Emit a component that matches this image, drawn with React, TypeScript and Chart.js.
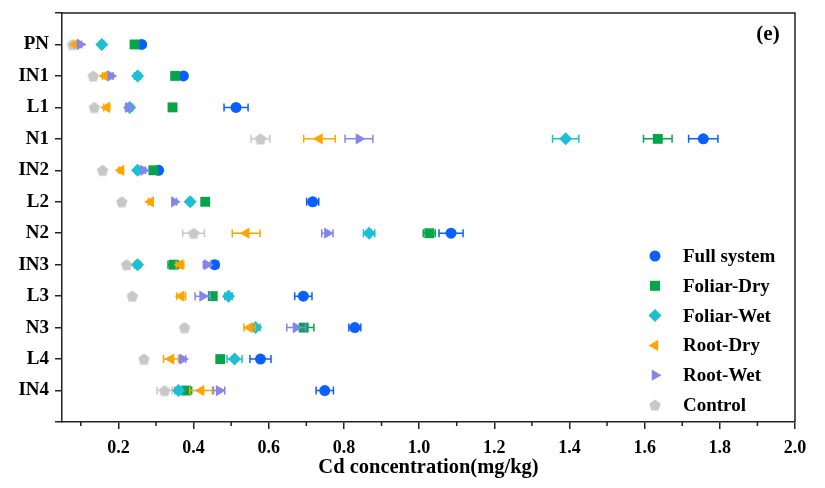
import React, { useEffect, useRef } from 'react';
import { Chart, registerables } from 'chart.js';

Chart.register(...registerables);

// ---------------- data ----------------
const categories = ['PN', 'IN1', 'L1', 'N1', 'IN2', 'L2', 'N2', 'IN3', 'L3', 'N3', 'L4', 'IN4'];
const xTickValues = [0.2, 0.4, 0.6, 0.8, 1.0, 1.2, 1.4, 1.6, 1.8, 2.0];
const xMinorTicks = [0.1, 0.3, 0.5, 0.7, 0.9, 1.1, 1.3, 1.5, 1.7, 1.9];
const seriesNames = ['Full system', 'Foliar-Dry', 'Foliar-Wet', 'Root-Dry', 'Root-Wet', 'Control'];

const fullSystem = [0.262, 0.373, 0.513, 1.756, 0.307, 0.717, 1.085, 0.456, 0.692, 0.829, 0.578, 0.749];
const fullSystemErr = [0.006, 0.005, 0.032, 0.039, 0.008, 0.016, 0.032, 0.010, 0.023, 0.016, 0.028, 0.023];

const foliarDry = [0.243, 0.351, 0.344, 1.635, 0.293, 0.431, 1.027, 0.347, 0.451, 0.693, 0.471, 0.380];
const foliarDryErr = [0.005, 0.008, 0.006, 0.038, 0.006, 0.006, 0.016, 0.015, 0.008, 0.027, 0.006, 0.015];

const foliarWet = [0.156, 0.251, 0.230, 1.390, 0.251, 0.391, 0.867, 0.251, 0.493, 0.565, 0.509, 0.360];
const foliarWetErr = [0.005, 0.008, 0.008, 0.035, 0.006, 0.006, 0.015, 0.008, 0.010, 0.012, 0.020, 0.010];

const rootDry = [0.086, 0.164, 0.169, 0.735, 0.207, 0.286, 0.540, 0.364, 0.367, 0.549, 0.340, 0.420];
const rootDryErr = [0.004, 0.006, 0.008, 0.042, 0.006, 0.006, 0.037, 0.010, 0.012, 0.015, 0.020, 0.030];

const rootWet = [0.098, 0.180, 0.227, 0.840, 0.267, 0.349, 0.756, 0.436, 0.424, 0.673, 0.371, 0.468];
const rootWetErr = [0.004, 0.006, 0.008, 0.037, 0.005, 0.006, 0.015, 0.010, 0.020, 0.025, 0.008, 0.015];

const control = [0.078, 0.133, 0.136, 0.578, 0.158, 0.209, 0.400, 0.222, 0.237, 0.376, 0.268, 0.323];
const controlErr = [0.004, 0.004, 0.004, 0.025, 0.004, 0.004, 0.029, 0.005, 0.005, 0.006, 0.006, 0.020];

// ---------------- styles ----------------
const COLORS = ['#0a5fff', '#07a54a', '#1cbfd4', '#ffa500', '#8585ee', '#c8c8c8'];
const FONT = '"Liberation Serif", "Times New Roman", serif';

function makePentagon(r: number, color: string): HTMLCanvasElement {
  const c = document.createElement('canvas');
  const s = Math.ceil(2 * r + 2);
  c.width = s;
  c.height = s;
  const ctx = c.getContext('2d')!;
  ctx.fillStyle = color;
  ctx.beginPath();
  for (let i = 0; i < 5; i++) {
    const a = -Math.PI / 2 + (i * 2 * Math.PI) / 5;
    const x = s / 2 + r * Math.cos(a);
    const y = s / 2 + r * Math.sin(a) + r * 0.1;
    if (i === 0) ctx.moveTo(x, y);
    else ctx.lineTo(x, y);
  }
  ctx.closePath();
  ctx.fill();
  return c;
}

function drawMarker(ctx: CanvasRenderingContext2D, kind: number, x: number, y: number, color: string, pent: HTMLCanvasElement) {
  ctx.save();
  ctx.fillStyle = color;
  ctx.beginPath();
  if (kind === 0) {
    ctx.arc(x, y, 5.5, 0, Math.PI * 2);
  } else if (kind === 1) {
    ctx.rect(x - 5, y - 5, 10, 10);
  } else if (kind === 2) {
    const r = 6.5;
    ctx.moveTo(x, y - r);
    ctx.lineTo(x + r, y);
    ctx.lineTo(x, y + r);
    ctx.lineTo(x - r, y);
  } else if (kind === 3 || kind === 4) {
    const r = 6.5;
    const dir = kind === 3 ? -1 : 1;
    for (let i = 0; i < 3; i++) {
      const a = (i * 2 * Math.PI) / 3;
      const px = x + dir * Math.cos(a) * r;
      const py = y + Math.sin(a) * r;
      if (i === 0) ctx.moveTo(px, py);
      else ctx.lineTo(px, py);
    }
  } else {
    ctx.drawImage(pent, x - pent.width / 2, y - pent.height / 2);
    ctx.restore();
    return;
  }
  ctx.closePath();
  ctx.fill();
  ctx.restore();
}

export default function App() {
  const ref = useRef<HTMLCanvasElement | null>(null);

  useEffect(() => {
    if (!ref.current) return;
    const pent = makePentagon(6, COLORS[5]);

    const allValues = [fullSystem, foliarDry, foliarWet, rootDry, rootWet, control];
    const allErrs = [fullSystemErr, foliarDryErr, foliarWetErr, rootDryErr, rootWetErr, controlErr];
    const styles: any[] = ['circle', 'rect', 'rectRot', 'triangle', 'triangle', pent];
    const radii = [5.5, 7, 6.5, 6.5, 6.5, 6];
    const rotations = [0, 0, 0, -90, 90, 0];
    const orders = [4, 3, 2, 1, 0, 5];

    const datasets = seriesNames.map((name, k) => ({
      label: name,
      data: allValues[k].map((v, i) => ({ x: v, y: 12 - i, err: allErrs[k][i] })),
      backgroundColor: COLORS[k],
      borderColor: COLORS[k],
      borderWidth: 0,
      pointStyle: styles[k],
      pointRadius: radii[k],
      pointHoverRadius: radii[k],
      pointRotation: rotations[k],
      order: orders[k],
    }));

    const errorBars = {
      id: 'errorBars',
      beforeDatasetDraw(chart: any, args: any) {
        const ds = chart.data.datasets[args.index];
        const xs = chart.scales.x;
        const ctx = chart.ctx;
        ctx.save();
        ctx.strokeStyle = ds.borderColor;
        ctx.lineWidth = 1.5;
        args.meta.data.forEach((pt: any, i: number) => {
          const d = ds.data[i];
          const x1 = xs.getPixelForValue(d.x - d.err);
          const x2 = xs.getPixelForValue(d.x + d.err);
          const y = pt.y;
          ctx.beginPath();
          ctx.moveTo(x1, y);
          ctx.lineTo(x2, y);
          ctx.moveTo(x1, y - 4);
          ctx.lineTo(x1, y + 4);
          ctx.moveTo(x2, y - 4);
          ctx.lineTo(x2, y + 4);
          ctx.stroke();
        });
        ctx.restore();
      },
    };

    const decorations = {
      id: 'decorations',
      afterDraw(chart: any) {
        const ctx = chart.ctx;
        const a = chart.chartArea;
        const xs = chart.scales.x;
        ctx.save();
        // top & right frame
        ctx.strokeStyle = '#222';
        ctx.lineWidth = 1.5;
        ctx.beginPath();
        ctx.moveTo(a.left, a.top);
        ctx.lineTo(a.right, a.top);
        ctx.lineTo(a.right, a.bottom);
        ctx.stroke();
        // minor ticks
        ctx.beginPath();
        xMinorTicks.forEach((v) => {
          const px = xs.getPixelForValue(v);
          if (px >= a.left && px <= a.right) {
            ctx.moveTo(px, a.bottom);
            ctx.lineTo(px, a.bottom + 4);
          }
        });
        ctx.stroke();
        // panel label
        ctx.fillStyle = '#000';
        ctx.font = `bold 21px ${FONT}`;
        ctx.textAlign = 'center';
        ctx.textBaseline = 'middle';
        ctx.fillText('(e)', 768, 35);
        // legend
        ctx.font = `bold 19px ${FONT}`;
        ctx.textAlign = 'left';
        seriesNames.forEach((name, k) => {
          const y = 256 + k * 29.8;
          drawMarker(ctx, k, 655, y, COLORS[k], pent);
          ctx.fillStyle = '#000';
          ctx.fillText(name, 683, y + 1);
        });
        ctx.restore();
      },
    };

    const chart = new Chart(ref.current, {
      type: 'scatter',
      data: { datasets: datasets as any },
      options: {
        animation: false,
        responsive: false,
        devicePixelRatio: 1,
        layout: { padding: { top: 13, right: 30, left: 0, bottom: 0 } },
        plugins: { legend: { display: false }, tooltip: { enabled: false } },
        scales: {
          x: {
            type: 'linear',
            min: 0.05,
            max: 2.0,
            afterBuildTicks: (s: any) => {
              s.ticks = xTickValues.map((v) => ({ value: v }));
            },
            afterFit: (s: any) => {
              s.height = 66;
            },
            ticks: {
              autoSkip: false,
              maxRotation: 0,
              padding: 9,
              color: '#000',
              font: { family: FONT, weight: 'bold', size: 18 },
              callback: (v: any) => Number(v).toFixed(1),
            },
            grid: { display: true, drawOnChartArea: false, drawTicks: true, tickLength: 7, color: '#222', lineWidth: 1.5 },
            border: { display: true, color: '#222', width: 1.5 },
            title: {
              display: true,
              text: 'Cd concentration(mg/kg)',
              color: '#000',
              font: { family: FONT, weight: 'bold', size: 20.5 },
              padding: { top: 0, bottom: 8 },
            },
          },
          y: {
            type: 'linear',
            min: 0,
            max: 13,
            afterBuildTicks: (s: any) => {
              const t = [];
              for (let i = 0; i <= 13; i++) t.push({ value: i });
              s.ticks = t;
            },
            afterFit: (s: any) => {
              s.width = 62;
              s.paddingTop = 0;
              s.paddingBottom = 0;
            },
            ticks: {
              autoSkip: false,
              padding: 6,
              color: '#000',
              font: { family: FONT, weight: 'bold', size: 19 },
              callback: (v: any) => (v >= 1 && v <= 12 ? categories[12 - v] : ''),
            },
            grid: { display: true, drawOnChartArea: false, drawTicks: true, tickLength: 7, color: '#222', lineWidth: 1.5 },
            border: { display: true, color: '#222', width: 1.5 },
          },
        },
      } as any,
      plugins: [errorBars, decorations],
    });

    return () => chart.destroy();
  }, []);

  return (
    <div style={{ position: 'absolute', left: 0, top: 0, width: 825, height: 488, background: '#fff' }}>
      <canvas ref={ref} width={825} height={488} style={{ display: 'block' }} />
    </div>
  );
}
